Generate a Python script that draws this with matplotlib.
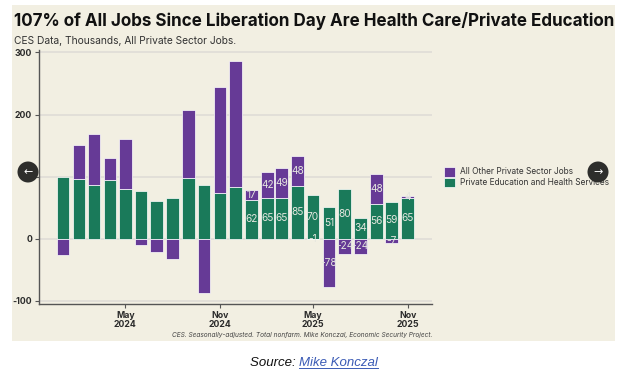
import datetime as dt
import matplotlib
matplotlib.use('Agg')
import matplotlib.pyplot as plt
import matplotlib.dates as mdates
from matplotlib.patches import Rectangle, Circle
from matplotlib.lines import Line2D

months = ['2024-01', '2024-02', '2024-03', '2024-04', '2024-05', '2024-06',
          '2024-07', '2024-08', '2024-09', '2024-10', '2024-11', '2024-12',
          '2025-01', '2025-02', '2025-03', '2025-04', '2025-05', '2025-06',
          '2025-07', '2025-08', '2025-09', '2025-10', '2025-11']
health_edu = [99, 96, 87, 94, 80, 77, 61, 65, 98, 87, 73, 83,
              62, 65, 65, 85, 70, 51, 80, 34, 56, 59, 65]
other = [-26, 55, 82, 36, 80, -11, -21, -32, 110, -88, 171, 204,
         17, 42, 49, 48, -1, -78, -24, -24, 48, -7, 4]
first_labeled = 12

GREEN = '#1A7A5A'
PURPLE = '#663A96'
CREAM = '#F2EFE2'
W, H = 624, 371

dates = [dt.datetime.strptime(m, '%Y-%m') for m in months]
x = mdates.date2num(dates)


def px(a, b):
    # picture pixels (top left origin) to figure fraction
    return a / W, 1 - b / H


fig = plt.figure(figsize=(W / 100, H / 100), dpi=100, facecolor='white')
plt.rcParams['font.family'] = ['Inter', 'DejaVu Sans']

fig.patches.append(Rectangle(px(12, 340.5), 603 / W, 335.5 / H, transform=fig.transFigure,
                             facecolor=CREAM, edgecolor='none', zorder=-5))

ax = fig.add_axes([38.5 / W, 1 - 304.3 / H, (432 - 38.5) / W, (304.3 - 50) / H])
ax.patch.set_alpha(0)

bottoms = [g if o > 0 else 0 for g, o in zip(health_edu, other)]
ax.bar(x, health_edu, width=24.5, color=GREEN, edgecolor='white', linewidth=0.5,
       label='Private Education and Health Services', zorder=3)
ax.bar(x, other, width=24.5, bottom=bottoms, color=PURPLE, edgecolor='white', linewidth=0.5,
       label='All Other Private Sector Jobs', zorder=3)

for i in range(first_labeled, len(x)):
    ax.text(x[i], health_edu[i] / 2, str(health_edu[i]), color='#E4E6DE', fontsize=7.3,
            ha='center', va='center', zorder=4)
    ax.text(x[i], bottoms[i] + other[i] / 2, str(other[i]), color='#E4E6DE', fontsize=7.3,
            ha='center', va='center', zorder=4)

ax.set_ylim(-105.8, 304)
ax.set_xlim(x[0] - 47.6, x[-1] + 47.2)
ax.set_yticks([-100, 0, 100, 200, 300])
# the 100 label sits behind the nav button in the original
ax.set_yticklabels(['-100', '0', '', '200', '300'], fontsize=6.3, fontweight='bold', color='#2A2A2A')
ax.grid(axis='y', color='#DEDBD6', linewidth=1.1, zorder=0)
tick_dates = ['2024-05', '2024-11', '2025-05', '2025-11']
ax.set_xticks(mdates.date2num([dt.datetime.strptime(m, '%Y-%m') for m in tick_dates]))
ax.set_xticklabels(['May\n2024', 'Nov\n2024', 'May\n2025', 'Nov\n2025'], fontsize=6.3,
                   fontweight='bold', color='#2A2A2A', linespacing=1.05)
ax.tick_params(axis='both', length=3, width=0.8, color='#555555', pad=1.5)
for s in ['top', 'right']:
    ax.spines[s].set_visible(False)
for s in ['left', 'bottom']:
    ax.spines[s].set_color('#555555')
    ax.spines[s].set_linewidth(1.0)

fig.text(*px(14.5, 26), '107% of All Jobs Since Liberation Day Are Health Care/Private Education',
         fontsize=12.25, fontweight='bold', color='#111111', ha='left', va='baseline')
fig.text(*px(14.5, 43.5), 'CES Data, Thousands, All Private Sector Jobs.', fontsize=7.35,
         color='#333333', ha='left', va='baseline')
fig.text(*px(432, 337.5), 'CES. Seasonally-adjusted. Total nonfarm. Mike Konczal, Economic Security Project.',
         fontsize=4.7, style='italic', color='#444444', ha='right', va='baseline')

handles, labels = ax.get_legend_handles_labels()
fig.legend(handles[::-1], labels[::-1], loc='center left', bbox_to_anchor=px(444, 177), frameon=False,
           fontsize=6.0, handlelength=1.35, handleheight=1.45, handletextpad=0.6, labelspacing=0.12,
           labelcolor='#333333', borderpad=0, borderaxespad=0)

for cx, arrow in [(28, '←'), (598, '→')]:
    c = Circle((cx, H - 172), 10.5, transform=None, facecolor='#2E2E2C', edgecolor='none', zorder=10)
    fig.patches.append(c)
    fig.text(*px(cx, 172), arrow, color='white', fontsize=8, ha='center', va='center',
             family='DejaVu Sans', zorder=11)

src = fig.text(*px(250, 366), 'Source: ', family='Liberation Sans', style='italic', fontsize=9.5,
               color='#111111', ha='left', va='baseline')
link = fig.text(*px(299, 366), 'Mike Konczal', family='Liberation Sans', style='italic', fontsize=9.5,
                color='#3B5BB5', ha='left', va='baseline')
fig.canvas.draw()
box = link.get_window_extent()
fig.add_artist(Line2D([box.x0 / W, box.x1 / W], [1 - 367.5 / H, 1 - 367.5 / H], color='#3B5BB5', linewidth=0.7))

fig.savefig('out.png', dpi=100)
